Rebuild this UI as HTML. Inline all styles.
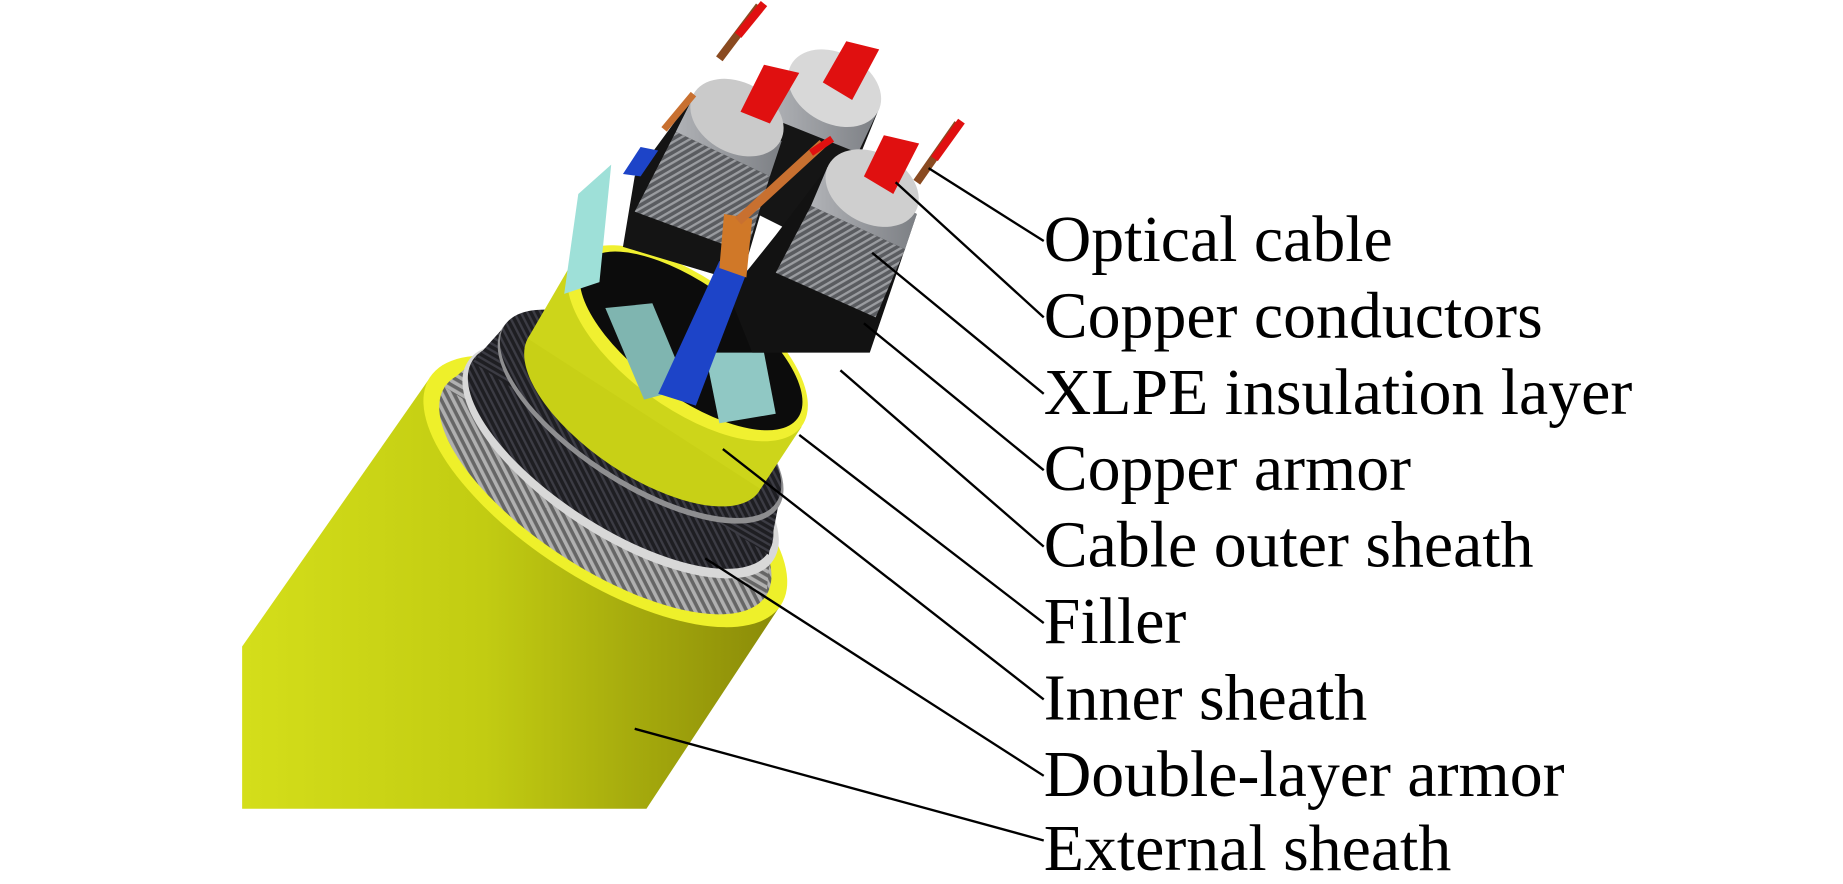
<!DOCTYPE html>
<html><head><meta charset="utf-8"><style>
html,body{margin:0;padding:0;background:#fff;}
svg{display:block}
</style></head><body>
<svg width="1843" height="884" viewBox="0 0 1568 752" xmlns="http://www.w3.org/2000/svg">
<defs>
<linearGradient id="yb" x1="0" y1="0" x2="1" y2="0">
<stop offset="0" stop-color="#d4de1a"/><stop offset="0.45" stop-color="#c2cc12"/><stop offset="1" stop-color="#8a8a08"/>
</linearGradient>
<linearGradient id="gy" x1="0" y1="0" x2="1" y2="0">
<stop offset="0" stop-color="#b0b2b6"/><stop offset="1" stop-color="#7c7f84"/>
</linearGradient>
<pattern id="ar" width="6" height="6" patternUnits="userSpaceOnUse" patternTransform="rotate(-60)">
<rect width="6" height="6" fill="#666"/><rect width="3" height="6" fill="#b0b0b0"/>
</pattern>
<pattern id="ar2" width="5" height="5" patternUnits="userSpaceOnUse" patternTransform="rotate(-60)">
<rect width="5" height="5" fill="#1e1e22"/><rect width="2" height="5" fill="#3c3c44"/>
</pattern>
<pattern id="ca" width="5" height="5" patternUnits="userSpaceOnUse" patternTransform="rotate(60)">
<rect width="5" height="5" fill="#5a5c60"/><rect width="2" height="5" fill="#9a9ca0"/>
</pattern>
</defs>
<!-- outer body -->
<polygon points="206,688 206,550 366,321 664,515 550,688" fill="url(#yb)"/>
<ellipse cx="515" cy="418" rx="178" ry="75" transform="rotate(33 515 418)" fill="#eef02a"/>
<!-- armor band -->
<ellipse cx="515" cy="418" rx="163" ry="66" transform="rotate(33 515 418)" fill="url(#ar)"/>
<polygon points="378,329 652,507 655,475 401,309" fill="url(#ar)"/>
<ellipse cx="528" cy="392" rx="155" ry="64" transform="rotate(33 528 392)" fill="#d8d8d8"/>
<!-- black band -->
<ellipse cx="528" cy="388" rx="150" ry="60" transform="rotate(33 528 388)" fill="url(#ar2)"/>
<polygon points="402,308 654,472 662,431 428,279" fill="url(#ar2)"/>
<ellipse cx="545" cy="355" rx="140" ry="58" transform="rotate(33 545 355)" fill="#8e8e90"/>
<ellipse cx="545" cy="352" rx="138" ry="56" transform="rotate(33 545 352)" fill="url(#ar2)"/>
<!-- inner sheath -->
<ellipse cx="548" cy="352" rx="118" ry="52" transform="rotate(34 548 352)" fill="#c8d016"/>
<polygon points="449,288 647,416 682,363 488,221" fill="#cdd51a"/>
<ellipse cx="585" cy="292" rx="120" ry="55" transform="rotate(36 585 292)" fill="#f0f030"/>
<ellipse cx="588" cy="290" rx="112" ry="47" transform="rotate(36 588 290)" fill="#0c0c0c"/>
<!-- fillers -->
<polygon points="515,262 555,258 585,330 548,340" fill="#7fb5b0"/>
<polygon points="600,300 650,300 660,352 612,360" fill="#90c8c4"/>
<polygon points="480,250 492,165 520,140 510,240" fill="#9ee0d8"/>
<!-- core 2 (back) -->
<polygon points="672,60 748,92 700,210 620,170" fill="#151515"/>
<polygon points="672,60 748,92 730,130 655,100" fill="url(#gy)"/>
<ellipse cx="710" cy="75" rx="42" ry="30" transform="rotate(28 710 75)" fill="#d8d8d8"/>
<!-- core 1 -->
<polygon points="590,82 665,120 630,240 530,210 540,150" fill="#141414"/>
<polygon points="575,112 655,150 635,215 540,180" fill="url(#ca)"/>
<polygon points="590,82 665,120 655,150 575,112" fill="url(#gy)"/>
<ellipse cx="627" cy="100" rx="42" ry="30" transform="rotate(28 627 100)" fill="#cacaca"/>
<!-- core 3 -->
<polygon points="704,142 780,182 740,300 640,300 620,250 660,200" fill="#121212"/>
<polygon points="690,175 770,212 745,270 660,232" fill="url(#ca)"/>
<polygon points="704,142 780,182 770,212 690,175" fill="url(#gy)"/>
<ellipse cx="742" cy="160" rx="42" ry="30" transform="rotate(28 742 160)" fill="#cfcfcf"/>
<!-- blue core -->
<polygon points="612,222 636,230 592,345 560,335" fill="#1d44c8"/>
<polygon points="616,182 640,186 635,236 612,228" fill="#d07828"/>
<line x1="628" y1="188" x2="700" y2="122" stroke="#c87030" stroke-width="8"/>
<line x1="690" y1="130" x2="708" y2="118" stroke="#e01010" stroke-width="6"/>
<polygon points="545,125 560,128 545,150 530,148" fill="#1d44c8"/>
<line x1="565" y1="110" x2="590" y2="80" stroke="#c87030" stroke-width="6"/>
<!-- red conductors -->
<polygon points="630,95 650,55 680,62 655,105" fill="#e01010"/>
<polygon points="700,70 720,35 748,42 725,85" fill="#e01010"/>
<polygon points="735,150 752,115 782,122 760,165" fill="#e01010"/>
<line x1="780" y1="155" x2="815" y2="105" stroke="#8a4a20" stroke-width="7"/>
<line x1="795" y1="135" x2="818" y2="103" stroke="#e01010" stroke-width="7"/>
<line x1="612" y1="50" x2="646" y2="5" stroke="#8a4a20" stroke-width="7"/>
<line x1="628" y1="30" x2="650" y2="3" stroke="#e01010" stroke-width="7"/>
<!-- leader lines -->
<g stroke="#000" stroke-width="2">
<line x1="790" y1="143" x2="888" y2="205"/>
<line x1="762" y1="155" x2="888" y2="270"/>
<line x1="742" y1="215" x2="888" y2="335"/>
<line x1="735" y1="275" x2="888" y2="400"/>
<line x1="715" y1="315" x2="888" y2="465"/>
<line x1="680" y1="370" x2="888" y2="530"/>
<line x1="615" y1="382" x2="888" y2="595"/>
<line x1="600" y1="475" x2="888" y2="660"/>
<line x1="540" y1="620" x2="888" y2="715"/>
</g>
<g font-family="Liberation Serif, serif" font-size="56" fill="#000">
<text x="888" y="222">Optical cable</text>
<text x="888" y="287">Copper conductors</text>
<text x="888" y="352">XLPE insulation layer</text>
<text x="888" y="417">Copper armor</text>
<text x="888" y="482">Cable outer sheath</text>
<text x="888" y="547">Filler</text>
<text x="888" y="612">Inner sheath</text>
<text x="888" y="677">Double-layer armor</text>
<text x="888" y="740">External sheath</text>
</g>
</svg>
</body></html>
